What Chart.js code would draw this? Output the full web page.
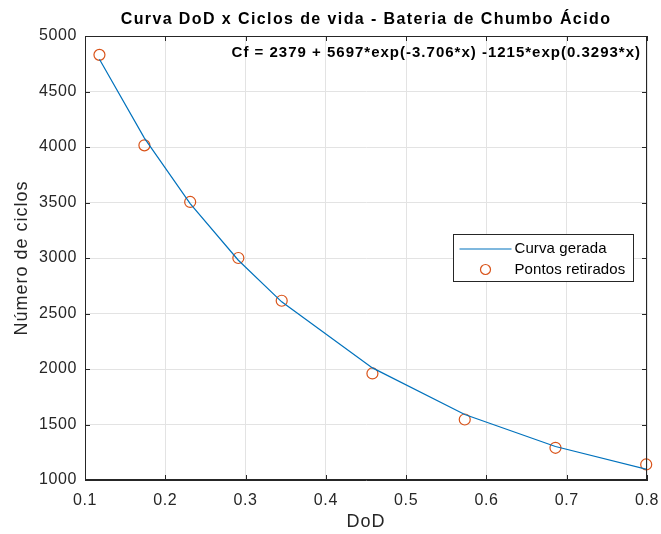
<!DOCTYPE html>
<html lang="pt">
<head>
    <meta charset="UTF-8">
    <title>Curva DoD x Ciclos de vida</title>
    <script src="https://cdn.jsdelivr.net/npm/chart.js@4.4.0/dist/chart.umd.min.js"></script>
    <style>
        body { margin: 0; background: #fff; }
    </style>
</head>
<body>
    <canvas id="chart" width="661" height="534"></canvas>
    <script>

// pontos retirados do datasheet
const dod = [0.118, 0.174, 0.231, 0.291, 0.345, 0.458, 0.573, 0.686, 0.799];
const ciclos = [4830, 4015, 3505, 3000, 2615, 1960, 1545, 1290, 1140];

const curvaX = [0.118, 0.174, 0.231, 0.291, 0.345, 0.458, 0.573, 0.686, 0.8];
const curvaY = [4790, 4080, 3490, 2980, 2605, 2010, 1590, 1302, 1095];

const xTicks = [0.1, 0.2, 0.3, 0.4, 0.5, 0.6, 0.7, 0.8];
const yTicks = [1000, 1500, 2000, 2500, 3000, 3500, 4000, 4500, 5000];

const titulo = 'Curva DoD x Ciclos de vida - Bateria de Chumbo Ácido';
const equacao = 'Cf = 2379 + 5697*exp(-3.706*x) -1215*exp(0.3293*x)';
const legendas = ['Curva gerada', 'Pontos retirados'];
const xTitulo = 'DoD';
const yTitulo = 'Número de ciclos';

const eixoCor = '#262626';
const font = 'Liberation Sans, Arial, sans-serif';

// desenha o titulo, a equacao, a caixa, os ticks para dentro e a legenda
const extras = {
    id: 'extras',
    beforeDraw(chart) {
        // fonte do matlab e mais larga
        chart.ctx.letterSpacing = '0.6px';
    },
    afterDraw(chart) {
        const ctx = chart.ctx;
        const a = chart.chartArea;
        const xs = chart.scales.x, ys = chart.scales.y;
        ctx.save();

        // caixa
        ctx.strokeStyle = eixoCor;
        ctx.lineWidth = 1;
        ctx.strokeRect(a.left + 0.5, a.top + 0.5, a.right - a.left - 1, a.bottom - a.top - 1);

        // ticks para dentro
        ctx.beginPath();
        xTicks.forEach(v => {
            const px = Math.round(xs.getPixelForValue(v)) + 0.5;
            ctx.moveTo(px, a.bottom); ctx.lineTo(px, a.bottom - 5);
            ctx.moveTo(px, a.top); ctx.lineTo(px, a.top + 5);
        });
        yTicks.forEach(v => {
            const py = Math.round(ys.getPixelForValue(v)) + 0.5;
            ctx.moveTo(a.left, py); ctx.lineTo(a.left + 5, py);
            ctx.moveTo(a.right, py); ctx.lineTo(a.right - 5, py);
        });
        ctx.stroke();

        // titulos dos eixos
        ctx.fillStyle = eixoCor;
        ctx.font = '18px ' + font;
        ctx.letterSpacing = '1px';
        ctx.textAlign = 'center';
        ctx.textBaseline = 'middle';
        ctx.fillText(xTitulo, (a.left + a.right) / 2, 522);
        ctx.save();
        ctx.translate(22, (a.top + a.bottom) / 2);
        ctx.rotate(-Math.PI / 2);
        ctx.fillText(yTitulo, 0, 0);
        ctx.restore();

        // titulo
        ctx.fillStyle = '#000';
        ctx.font = 'bold 16px ' + font;
        ctx.letterSpacing = '1.4px';
        ctx.fillText(titulo, (a.left + a.right) / 2, 20);

        // equacao
        ctx.font = 'bold 15px ' + font;
        ctx.letterSpacing = '1px';
        ctx.textAlign = 'right';
        ctx.fillText(equacao, a.right - 6, 53);

        // legenda
        const lx = 453.5, ly = 234.5, lw = 180, lh = 47;
        ctx.fillStyle = '#fff';
        ctx.fillRect(lx, ly, lw, lh);
        ctx.strokeStyle = eixoCor;
        ctx.strokeRect(lx, ly, lw, lh);

        ctx.strokeStyle = '#0072BD';
        ctx.lineWidth = 1.2;
        ctx.beginPath();
        ctx.moveTo(lx + 6, ly + 14.5); ctx.lineTo(lx + 58, ly + 14.5);
        ctx.stroke();

        ctx.strokeStyle = '#D95319';
        ctx.beginPath();
        ctx.arc(lx + 32, ly + 35, 5, 0, Math.PI * 2);
        ctx.stroke();

        ctx.fillStyle = '#000';
        ctx.font = '15px ' + font;
        ctx.letterSpacing = '0.1px';
        ctx.textAlign = 'left';
        ctx.fillText(legendas[0], lx + 61, ly + 14.5);
        ctx.fillText(legendas[1], lx + 61, ly + 35);

        ctx.restore();
        ctx.letterSpacing = '0px';
    }
};

const ctx = document.getElementById('chart').getContext('2d');
new Chart(ctx, {
    type: 'scatter',
    data: {
        datasets: [{
            label: legendas[0],
            data: curvaX.map((x, i) => ({ x: x, y: curvaY[i] })),
            showLine: true,
            borderColor: '#0072BD',
            borderWidth: 1.2,
            pointRadius: 0,
            tension: 0,
            fill: false
        }, {
            label: legendas[1],
            data: dod.map((x, i) => ({ x: x, y: ciclos[i] })),
            showLine: false,
            pointStyle: 'circle',
            pointRadius: 5.5,
            pointBorderWidth: 1.2,
            borderColor: '#D95319',
            backgroundColor: 'rgba(0,0,0,0)',
            clip: false
        }]
    },
    options: {
        responsive: false,
        animation: false,
        layout: { padding: { top: 36, right: 14, bottom: 0, left: 0 } },
        plugins: {
            legend: { display: false },
            title: { display: false },
            tooltip: { enabled: false }
        },
        scales: {
            x: {
                type: 'linear',
                min: 0.1,
                max: 0.8,
                afterFit: s => { s.height = 54; s.paddingLeft = 0; s.paddingRight = 0; },
                afterBuildTicks: s => { s.ticks = xTicks.map(v => ({ value: v })); },
                ticks: {
                    padding: 11,
                    color: eixoCor,
                    font: { family: font, size: 16 },
                    maxRotation: 0,
                    callback: v => v.toFixed(1)
                },
                grid: { color: '#e3e3e3', drawTicks: false },
                border: { color: eixoCor }
            },
            y: {
                min: 1000,
                max: 5000,
                afterFit: s => { s.width = 85; s.paddingTop = 0; s.paddingBottom = 0; },
                afterBuildTicks: s => { s.ticks = yTicks.map(v => ({ value: v })); },
                ticks: {
                    padding: 8,
                    color: eixoCor,
                    font: { family: font, size: 16 },
                    callback: v => String(v)
                },
                grid: { color: '#e3e3e3', drawTicks: false },
                border: { color: eixoCor }
            }
        }
    },
    plugins: [extras]
});

    </script>
</body>
</html>
